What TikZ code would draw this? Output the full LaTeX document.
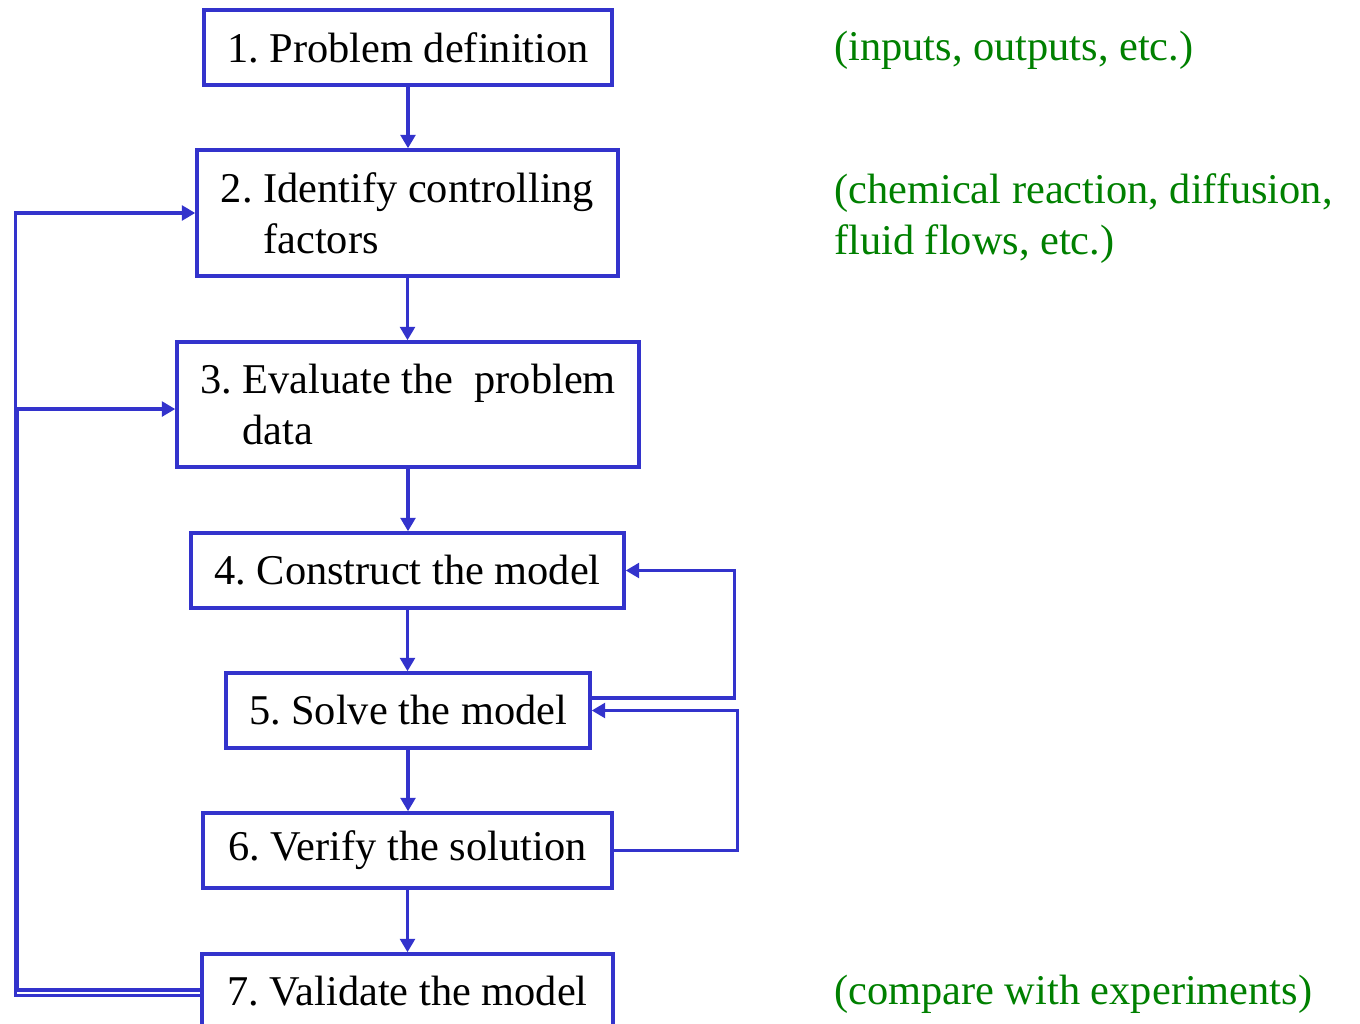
\documentclass[tikz,border=0pt]{standalone}
\usepackage{fontspec}
\setmainfont{Liberation Serif}
\usetikzlibrary{arrows.meta}
\definecolor{boxblue}{RGB}{51,51,204}
\definecolor{notegreen}{RGB}{0,128,0}
\tikzset{
  stepbox/.style={draw=boxblue,line width=2.6pt,inner sep=0pt,align=left,
    minimum height=56.25pt,font=\fontsize{31.8}{38.3}\selectfont},
  flow/.style={draw=boxblue,line width=2.4pt,-{Triangle[length=10pt,width=11pt]}},
  note/.style={anchor=west,align=left,text=notegreen,inner sep=0pt,
    font=\fontsize{31.8}{38.3}\selectfont}
}
\frenchspacing
\begin{document}
\begin{tikzpicture}[x=0.75pt,y=-0.75pt]
\useasboundingbox(0,0)rectangle(1360,1024);
%
\node[stepbox,minimum width=306pt](s1)at(408,47.5){1. Problem definition};
\node[stepbox,minimum width=315.75pt,minimum height=94.5pt](s2)at(407.5,213)
  {2. Identify controlling\\\phantom{2. }factors};
\node[stepbox,minimum width=346.5pt,minimum height=93.75pt](s3)at(408,404.5)
  {3. Evaluate the \ problem\\\phantom{3. }data};
\node[stepbox,minimum width=324.75pt](s4)at(407.5,570.5){4. Construct the model};
\node[stepbox,minimum width=273pt](s5)at(408,710.5){5. Solve the model};
\node[stepbox,minimum width=306.75pt](s6)at(407.5,850.5){6. Verify the solution};
\node[stepbox,minimum width=308.25pt](s7)at(407.5,991.5){7. Validate the model};
%
\node[note](c1)at(834,50){(inputs, outputs, etc.)};
\node[note](c2)at(834,218.5){(chemical reaction, diffusion,\\fluid flows, etc.)};
\node[note](c7)at(834,994){(compare with experiments)};
%
\draw[flow](s1.south)--(s1.south|-s2.north);
\draw[flow](s2.south)--(s2.south|-s3.north);
\draw[flow](s3.south)--(s3.south|-s4.north);
\draw[flow](s4.south)--(s4.south|-s5.north);
\draw[flow](s5.south)--(s5.south|-s6.north);
\draw[flow](s6.south)--(s6.south|-s7.north);
%
\draw[flow]([yshift=9.4pt]s5.east)-|([xshift=81.75pt]s4.east)--(s4.east);
\draw[flow](s6.east)-|([xshift=109.5pt]s5.east)--(s5.east);
%
\draw[flow]([yshift=1.1pt]s7.west)-|([xshift=-118.5pt,yshift=-3.4pt]s3.west)
  --([yshift=-3.4pt]s3.west);
\draw[flow]([yshift=-3pt]s7.west)-|([xshift=-135pt]s2.west)--(s2.west);
\end{tikzpicture}
\end{document}
